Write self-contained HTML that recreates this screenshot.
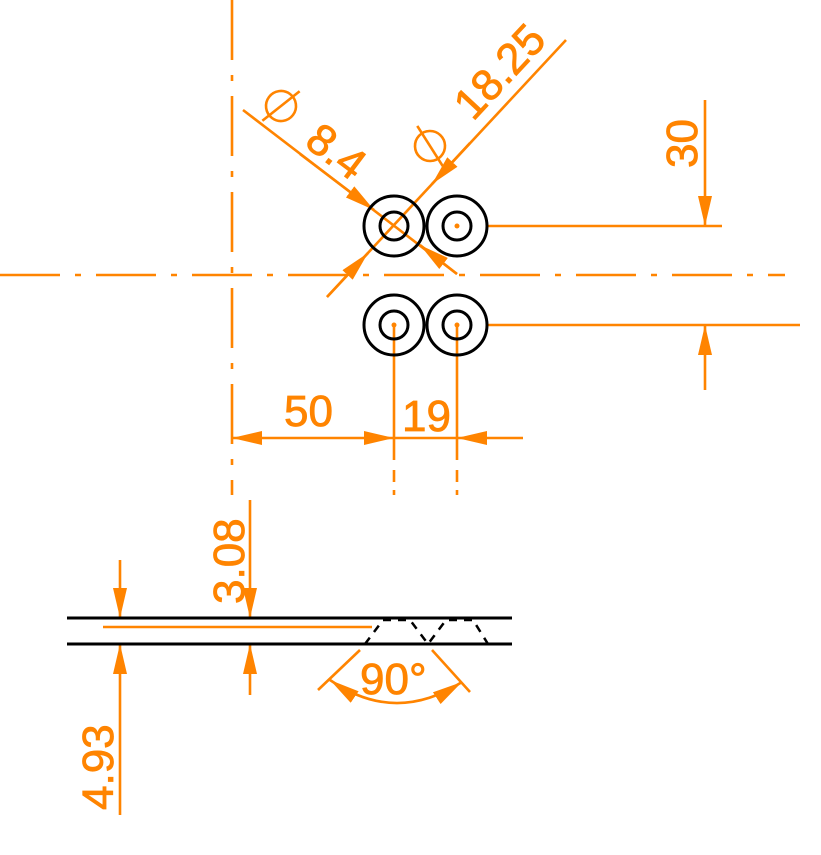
<!DOCTYPE html>
<html><head><meta charset="utf-8"><style>html,body{margin:0;padding:0;background:#fff}svg{display:block}</style></head>
<body>
<svg width="821" height="855" viewBox="0 0 821 855" xmlns="http://www.w3.org/2000/svg" font-family="Liberation Sans, sans-serif">
<defs>
<marker id="a" viewBox="0 0 30 14" refX="30" refY="7" markerWidth="30" markerHeight="14" markerUnits="userSpaceOnUse" orient="auto-start-reverse"><path d="M0,0 L30,7 L0,14 Z" fill="#ff8400"/></marker>
</defs>
<g stroke="#ff8400" stroke-width="2.6" fill="none">
<line x1="0" y1="275" x2="785" y2="275" stroke-dasharray="60,15,6,15"/>
<line x1="232" y1="0" x2="232" y2="495" stroke-dasharray="60,15,6,15"/>
<line x1="487" y1="226" x2="722" y2="226"/>
<line x1="487" y1="325" x2="800" y2="325"/>
<line x1="705" y1="100" x2="705" y2="226" marker-end="url(#a)"/>
<line x1="705" y1="390" x2="705" y2="325" marker-end="url(#a)"/>
<line x1="394" y1="325" x2="394" y2="460"/>
<line x1="457" y1="325" x2="457" y2="460"/>
<line x1="394" y1="470" x2="394" y2="495" stroke-dasharray="12,8"/>
<line x1="457" y1="470" x2="457" y2="495" stroke-dasharray="12,8"/>
<line x1="313" y1="438" x2="232" y2="438" marker-end="url(#a)"/>
<line x1="313" y1="438" x2="394" y2="438" marker-end="url(#a)"/>
<line x1="394" y1="438" x2="457" y2="438"/>
<line x1="523" y1="438" x2="457" y2="438" marker-end="url(#a)"/>
<line x1="243" y1="110" x2="457" y2="274"/>
<line x1="300" y1="154" x2="374" y2="210" marker-end="url(#a)"/>
<line x1="457" y1="274" x2="420" y2="245" marker-end="url(#a)"/>
<line x1="566" y1="40" x2="327" y2="297"/>
<line x1="470" y1="143" x2="432" y2="184" marker-end="url(#a)"/>
<line x1="327" y1="297" x2="368" y2="253" marker-end="url(#a)"/>
<line x1="103" y1="627" x2="372" y2="627"/>
<line x1="250" y1="500" x2="250" y2="618" marker-end="url(#a)"/>
<line x1="250" y1="695" x2="250" y2="644" marker-end="url(#a)"/>
<line x1="120" y1="560" x2="120" y2="618" marker-end="url(#a)"/>
<line x1="120" y1="815" x2="120" y2="644" marker-end="url(#a)"/>
<line x1="318" y1="690" x2="360" y2="650"/>
<line x1="470" y1="692" x2="432" y2="650"/>
<path d="M330,680 Q395,725 462,682" marker-start="url(#a)" marker-end="url(#a)"/>
</g>
<g stroke="#000" stroke-width="3" fill="none">
<circle cx="394" cy="226" r="30"/><circle cx="394" cy="226" r="14"/>
<circle cx="457" cy="226" r="30"/><circle cx="457" cy="226" r="14"/>
<circle cx="394" cy="325" r="30"/><circle cx="394" cy="325" r="14"/>
<circle cx="457" cy="325" r="30"/><circle cx="457" cy="325" r="14"/>
<line x1="67" y1="618" x2="512" y2="618"/>
<line x1="67" y1="644" x2="512" y2="644"/>
<polyline points="365,644 383,620 410,620 428,644 446,620 473,620 488,644" stroke-width="2.5" stroke-dasharray="8,7"/>
</g>
<g fill="#ff8400">
<circle cx="394" cy="325" r="2.5"/><circle cx="457" cy="325" r="2.5"/><circle cx="457" cy="226" r="2.5"/>
</g>
<g fill="#ff8400" stroke="#ff8400" stroke-width="0.8" font-size="44">
<text x="284" y="426">50</text>
<text x="402" y="431">19</text>
<text transform="translate(697,168) rotate(-90)">30</text>
<text transform="translate(244,604) rotate(-90)">3.08</text>
<text transform="translate(113,810) rotate(-90)">4.93</text>
<text x="360" y="694">90°</text>
<text transform="translate(303,145) rotate(37)">8.4</text>
<text transform="translate(473,122) rotate(-47)">18.25</text>
</g>
<g stroke="#ff8400" stroke-width="2.6" fill="none">
<g transform="translate(281,106) rotate(37)"><circle r="15"/><line x1="-6" y1="23" x2="6" y2="-23"/></g>
<g transform="translate(430,146) rotate(-47)"><circle r="15"/><line x1="-6" y1="23" x2="6" y2="-23"/></g>
</g>
</svg>
</body></html>
